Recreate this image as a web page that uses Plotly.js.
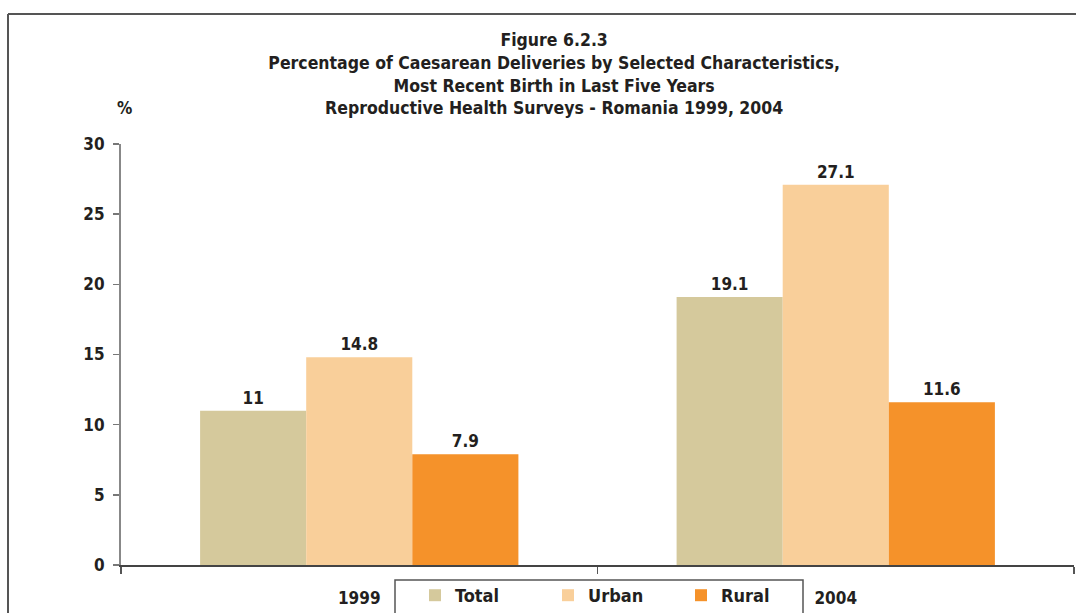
<!DOCTYPE html>
<html>
<head>
<meta charset="utf-8">
<script src="https://cdn.plot.ly/plotly-3.0.1.min.js"></script>
<style>html,body{margin:0;padding:0;background:#fff;}#chart{width:1076px;height:613px;}</style>
</head>
<body>
<div id="chart"></div>
<script>
const categories = ["1999", "2004"];
const seriesNames = ["Total", "Urban", "Rural"];
const totalValues = [11, 19.1];
const urbanValues = [14.8, 27.1];
const ruralValues = [7.9, 11.6];
const yTicks = [0, 5, 10, 15, 20, 25, 30];

const FONT = "'Liberation Sans Narrow', 'DejaVu Sans Condensed', 'Arial Narrow', sans-serif";
const TXT = "#231F20";
const colors = ["#D5C99C", "#F9CF9A", "#F5922A"];
const values = [totalValues, urbanValues, ruralValues];

const traces = seriesNames.map((name, i) => ({
  type: "bar",
  name: name,
  x: categories,
  y: values[i],
  marker: {color: colors[i], line: {width: 0}},
  text: values[i].map(v => String(v)),
  textposition: "outside",
  textfont: {family: FONT, size: 17, color: TXT, weight: 700},
  cliponaxis: false,
  hoverinfo: "none"
}));

const W = 953, H = 421; // plot area size in px
const px = x => (x - 121) / W;
const py = y => (565 - y) / H;

const layout = {
  width: 1076,
  height: 613,
  margin: {l: 121, r: 2, t: 144, b: 48, autoexpand: false},
  paper_bgcolor: "#fff",
  plot_bgcolor: "#fff",
  font: {family: FONT, color: TXT, size: 16, weight: 700},
  barmode: "group",
  bargap: 0.332,
  bargroupgap: 0,
  showlegend: true,
  title: {
    text: "Figure 6.2.3<br>Percentage of Caesarean Deliveries by Selected Characteristics,<br>Most Recent Birth in Last Five Years<br>Reproductive Health Surveys - Romania 1999, 2004",
    font: {family: FONT, size: 17.5, color: TXT, weight: 700},
    x: 0.515, xref: "container", xanchor: "center",
    y: 1 - 46/613, yref: "container", yanchor: "top"
  },
  xaxis: {
    type: "category",
    showgrid: false,
    zeroline: false,
    showline: true,
    linecolor: "#444",
    linewidth: 2,
    ticks: "outside",
    tickson: "boundaries",
    ticklen: 7,
    tickcolor: "#555",
    tickwidth: 1.5,
    ticklabelstandoff: 17,
    tickfont: {family: FONT, size: 17, color: TXT, weight: 700}
  },
  yaxis: {
    range: [0, 30],
    tickvals: yTicks,
    ticktext: yTicks.map(String),
    showgrid: false,
    zeroline: false,
    showline: true,
    linecolor: "#888",
    linewidth: 2,
    ticks: "outside",
    ticklen: 6,
    tickcolor: "#777",
    tickwidth: 1.5,
    ticklabelstandoff: 5,
    tickfont: {family: FONT, size: 17, color: TXT, weight: 700}
  },
  legend: {
    orientation: "h",
    xref: "paper", yref: "paper",
    x: px(415), xanchor: "left",
    y: py(577), yanchor: "top",
    borderwidth: 0,
    bgcolor: "rgba(0,0,0,0)",
    font: {family: FONT, size: 18, color: TXT, weight: 700},
    entrywidth: 88,
    entrywidthmode: "pixels",
    itemwidth: 30,
    traceorder: "normal"
  },
  annotations: [{
    text: "%",
    xref: "paper", yref: "paper",
    x: 0, y: py(108),
    xanchor: "center", yanchor: "middle",
    xshift: 3,
    showarrow: false,
    font: {family: FONT, size: 17, color: TXT, weight: 700}
  }],
  shapes: [
    {type: "line", xref: "paper", yref: "paper",
     x0: px(8), x1: px(8), y0: -0.3, y1: py(14),
     line: {color: "#555", width: 2}},
    {type: "line", xref: "paper", yref: "paper",
     x0: px(8), x1: 1.1, y0: py(14), y1: py(14),
     line: {color: "#555", width: 2}},
    {type: "rect", xref: "paper", yref: "paper",
     x0: px(395), x1: px(803), y0: py(580), y1: py(630),
     line: {color: "#555", width: 1.5}, fillcolor: "rgba(0,0,0,0)"}
  ]
};

Plotly.newPlot("chart", traces, layout, {staticPlot: true, displayModeBar: false});
</script>
</body>
</html>
